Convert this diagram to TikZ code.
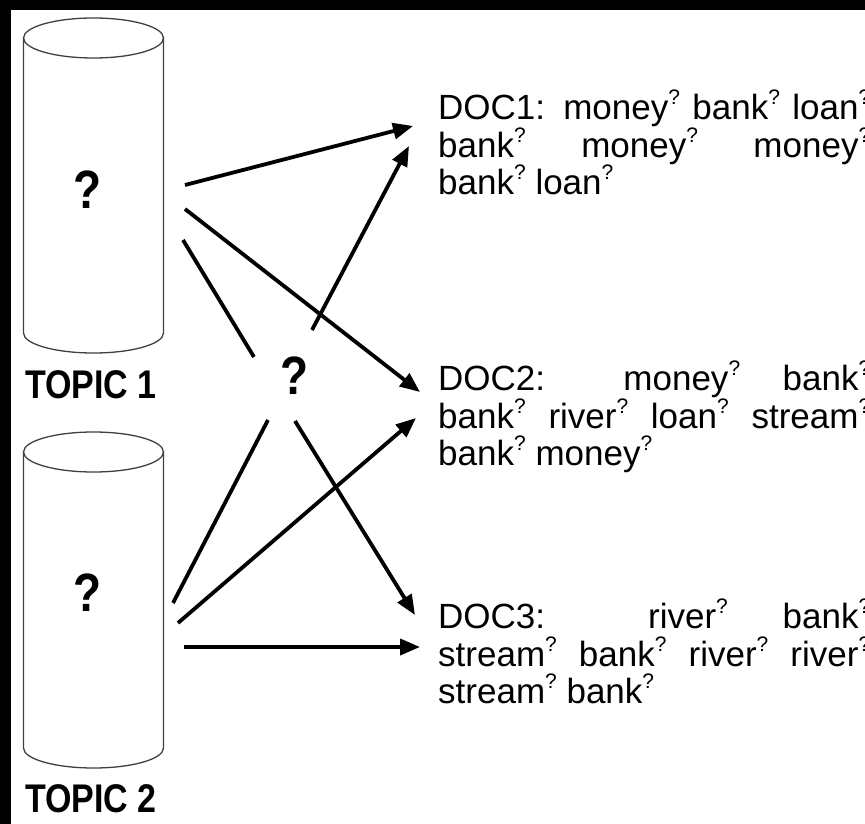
\documentclass[tikz,border=0pt]{standalone}
\usepackage{fontspec}
\setmainfont{Liberation Sans}
\newfontfamily\narrowfont[FakeStretch=0.85]{Liberation Sans}
\usetikzlibrary{arrows.meta}
\newcommand{\qs}{\raisebox{0.42em}{\fontsize{21}{21}\selectfont ?}}
\begin{document}
\begin{tikzpicture}[x=1pt,y=-1pt,
  conn/.style={line width=3.8pt, -{Triangle[length=20pt,width=16pt]}},
  plainline/.style={line width=3.8pt},
  cyl/.style={line width=1.3pt, draw=black!75},
  doc/.style={anchor=north west, inner sep=0pt, text width=432pt, align=justify, font=\fontsize{35}{37.5}\selectfont},
  qmark/.style={font=\narrowfont\bfseries\fontsize{54}{54}\selectfont, inner sep=0pt},
  topic/.style={font=\narrowfont\bfseries\fontsize{40}{40}\selectfont, anchor=base west, inner sep=0pt}]

\useasboundingbox (0,0) rectangle (865,824);
\fill[black] (0,0) rectangle (865,824);
\fill[white] (11,10) rectangle (865,824);

% cylinder 1
\draw[cyl] (23.5,38) -- (23.5,333) arc[start angle=180,end angle=360,x radius=70pt,y radius=20pt] -- (163.5,38);
\draw[cyl] (93.5,38) ellipse [x radius=70pt, y radius=20pt];
% cylinder 2
\draw[cyl] (23.5,452) -- (23.5,748) arc[start angle=180,end angle=360,x radius=70pt,y radius=20pt] -- (163.5,452);
\draw[cyl] (93.5,452) ellipse [x radius=70pt, y radius=20pt];

\node[qmark] (q1) at (88,190) {?};
\node[qmark] (q2) at (88,593) {?};
\node[qmark] (qm) at (295,376) {?};

\node[topic] (topic1) at (25,398) {TOPIC 1};
\node[topic] (topic2) at (25,812) {TOPIC 2};

\node[doc] (doc1) at (438,90) {DOC1: money\qs{} bank\qs{} loan\qs\linebreak bank\qs{} money\qs{} money\qs\linebreak bank\qs{} loan\qs};
\node[doc] (doc2) at (438,361) {DOC2: money\qs{} bank\qs\linebreak bank\qs{} river\qs{} loan\qs{} stream\qs\linebreak bank\qs{} money\qs};
\node[doc] (doc3) at (438,599) {DOC3: river\qs{} bank\qs\linebreak stream\qs{} bank\qs{} river\qs{} river\qs\linebreak stream\qs{} bank\qs};

% connector end points
\coordinate (a1s) at (185,185); \coordinate (a1e) at (413,126);
\coordinate (a2s) at (185,209); \coordinate (a2e) at (420,392);
\coordinate (l1s) at (183,240); \coordinate (l1e) at (254,357);
\coordinate (a3s) at (312,330); \coordinate (a3e) at (409,146);
\coordinate (l2s) at (268,420); \coordinate (l2e) at (173,603);
\coordinate (a4s) at (295,421); \coordinate (a4e) at (415,615);
\coordinate (a5s) at (178,623); \coordinate (a5e) at (416,418);
\coordinate (a6s) at (184,647); \coordinate (a6e) at (420,647);

\draw[conn] (a1s) -- (a1e);
\draw[conn] (a2s) -- (a2e);
\draw[plainline] (l1s) -- (l1e);
\draw[conn] (a3s) -- (a3e);
\draw[plainline] (l2s) -- (l2e);
\draw[conn] (a4s) -- (a4e);
\draw[conn] (a5s) -- (a5e);
\draw[conn] (a6s) -- (a6e);
\end{tikzpicture}
\end{document}
